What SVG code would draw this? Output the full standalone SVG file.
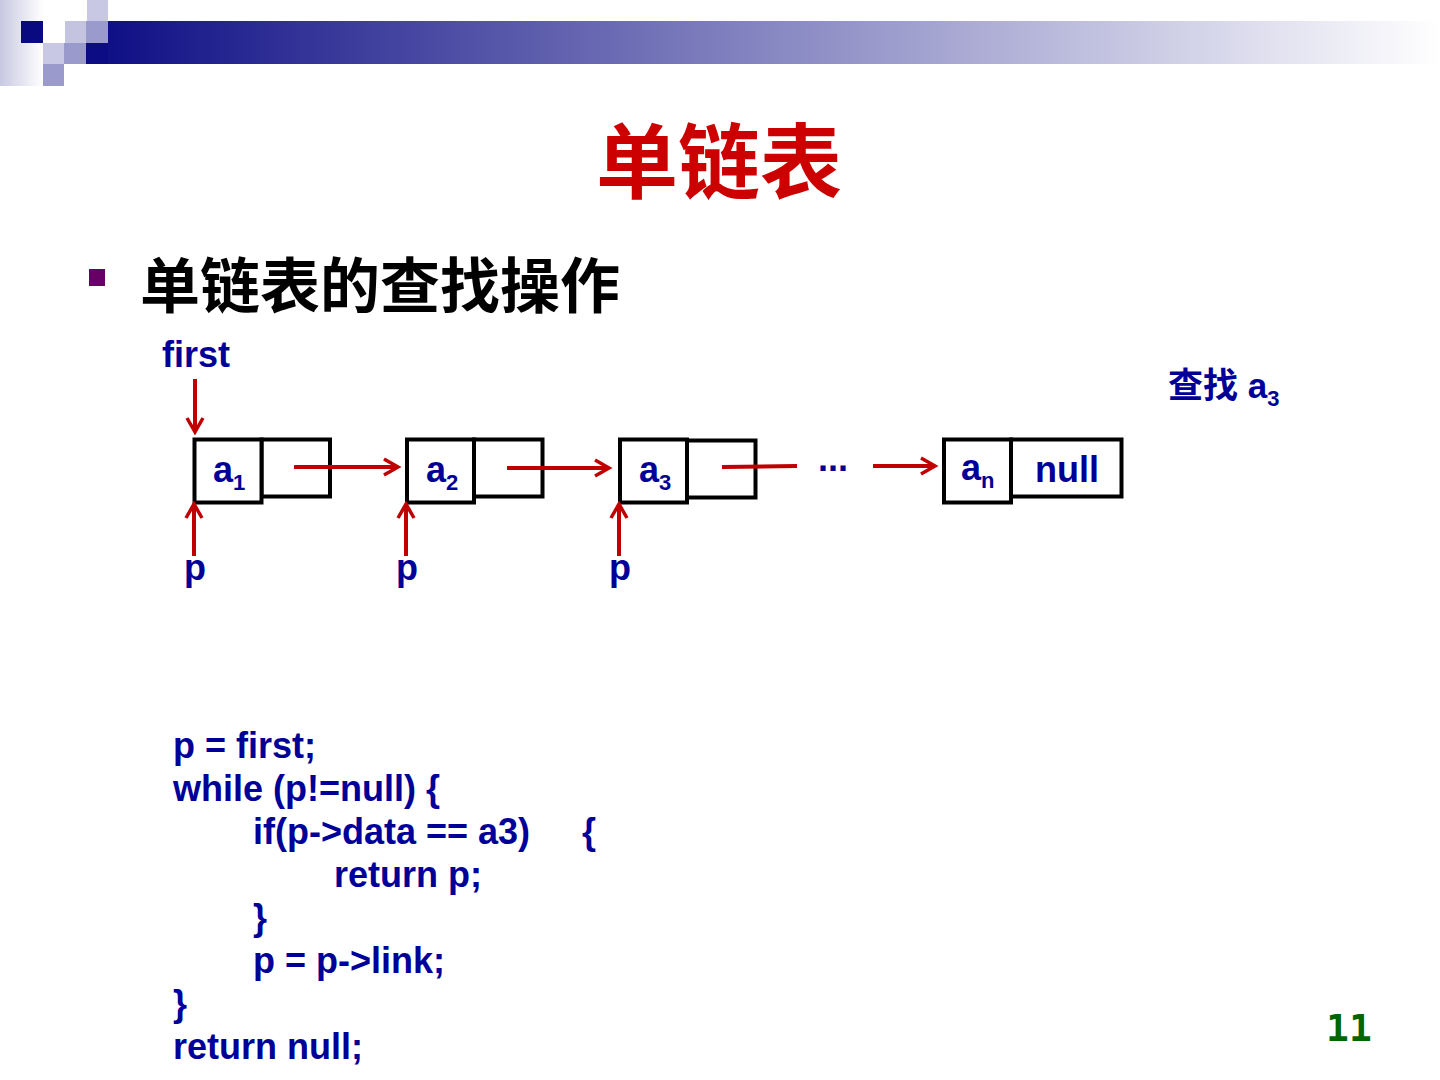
<svg xmlns="http://www.w3.org/2000/svg" width="1440" height="1080" viewBox="0 0 1440 1080">
<defs>
<linearGradient id="bar" x1="86" y1="0" x2="1440" y2="0" gradientUnits="userSpaceOnUse">
<stop offset="0" stop-color="#0c0c84"/>
<stop offset="1" stop-color="#ffffff"/>
</linearGradient>
<linearGradient id="strip" x1="0" y1="0" x2="1" y2="0">
<stop offset="0" stop-color="#c8c8e2"/>
<stop offset="1" stop-color="#ffffff"/>
</linearGradient>
</defs>
<style>
.t{font-family:"Liberation Sans",Arial,sans-serif;font-weight:bold;fill:#000099}
.cjk{font-family:"Liberation Sans","Noto Sans CJK SC",sans-serif;font-weight:bold}
.box{fill:#ffffff;stroke:#000000;stroke-width:4}
.ln{fill:none;stroke:#c00000;stroke-width:4}
.hd{fill:none;stroke:#c00000;stroke-width:3.5}
</style>
<rect width="1440" height="1080" fill="#ffffff"/>
<g id="header">
<rect x="0" y="0" width="43" height="86" fill="url(#strip)"/>
<rect x="108" y="21" width="1332" height="43" fill="url(#bar)"/>
<rect x="86" y="43" width="22" height="21" fill="#0c0c84"/>
<rect x="21" y="21" width="22" height="22" fill="#0a0a80"/>
<rect x="87" y="0" width="21" height="21" fill="#c8c8e4"/>
<rect x="65" y="21" width="21" height="22" fill="#c4c4e0"/>
<rect x="86" y="21" width="22" height="22" fill="#9a9acc"/>
<rect x="43" y="43" width="21" height="21" fill="#c8c8e4"/>
<rect x="64" y="43" width="22" height="21" fill="#9a9acc"/>
<rect x="43" y="64" width="21" height="22" fill="#9a9acc"/>
</g>
<text id="title" class="cjk" x="719" y="192" font-size="82" text-anchor="middle" fill="#cc0000">单链表</text>
<g id="bullet">
<rect x="89" y="269" width="16" height="17" fill="#660066"/>
<text class="cjk" x="140" y="308" font-size="60" fill="#000000">单链表的查找操作</text>
</g>
<text id="first" class="t" x="162" y="367" font-size="36">first</text>
<text id="search" class="t cjk" x="1168" y="398" font-size="35" fill="#000099">查找 a<tspan font-size="22" dy="8">3</tspan></text>
<g id="node1">
<rect class="box" x="261.5" y="439.5" width="68.5" height="57"/>
<rect class="box" x="194.5" y="439.5" width="67" height="63"/>
<text class="t" x="213" y="482" font-size="36">a<tspan font-size="22" dy="8">1</tspan></text>
</g>
<g id="node2">
<rect class="box" x="474" y="439.5" width="68.5" height="57"/>
<rect class="box" x="407" y="439.5" width="67" height="63"/>
<text class="t" x="426" y="482" font-size="36">a<tspan font-size="22" dy="8">2</tspan></text>
</g>
<g id="node3">
<rect class="box" x="687" y="440.5" width="68.5" height="57"/>
<rect class="box" x="620" y="439.5" width="67" height="63"/>
<text class="t" x="639" y="482" font-size="36">a<tspan font-size="22" dy="8">3</tspan></text>
</g>
<text id="ellipsis" class="t" x="818" y="471" font-size="36">...</text>
<g id="noden">
<rect class="box" x="1011" y="439.5" width="110.5" height="57"/>
<rect class="box" x="944" y="439.5" width="67" height="63"/>
<text class="t" x="961" y="480" font-size="36">a<tspan font-size="22" dy="8">n</tspan></text>
<text class="t" x="1067" y="482" font-size="36" text-anchor="middle">null</text>
</g>
<g id="pointers">
<text class="t" x="184" y="580" font-size="36">p</text>
<text class="t" x="396" y="580" font-size="36">p</text>
<text class="t" x="609" y="580" font-size="36">p</text>
</g>
<g id="connectors">
<line class="ln" x1="195" y1="379" x2="195" y2="430"/>
<polyline class="hd" points="187,418 195,432 203,418"/>
<line class="ln" x1="194" y1="556" x2="194" y2="506"/>
<polyline class="hd" points="186,518 194,504 202,518"/>
<line class="ln" x1="406" y1="556" x2="406" y2="506"/>
<polyline class="hd" points="398,518 406,504 414,518"/>
<line class="ln" x1="619" y1="556" x2="619" y2="506"/>
<polyline class="hd" points="611,518 619,504 627,518"/>
<line class="ln" x1="294" y1="467" x2="395" y2="467"/>
<polyline class="hd" points="384,459 398,467 384,475"/>
<line class="ln" x1="507" y1="468" x2="606" y2="468"/>
<polyline class="hd" points="595,460 609,468 595,476"/>
<line class="ln" x1="722" y1="467" x2="797" y2="466"/>
<line class="ln" x1="873" y1="466" x2="932" y2="466"/>
<polyline class="hd" points="921,458 935,466 921,474"/>
</g>
<g id="code" class="t" font-size="36">
<text x="173" y="758">p = first;</text>
<text x="173" y="801">while (p!=null) {</text>
<text x="253" y="844">if(p-&gt;data == a3)</text>
<text x="582" y="844">{</text>
<text x="334" y="887">return p;</text>
<text x="253" y="930">}</text>
<text x="253" y="973">p = p-&gt;link;</text>
<text x="173" y="1016">}</text>
<text x="173" y="1059">return null;</text>
</g>
<text id="page" x="1326" y="1041" font-size="38" font-family="'DejaVu Sans Mono',monospace" font-weight="bold" fill="#006600">11</text>
</svg>
